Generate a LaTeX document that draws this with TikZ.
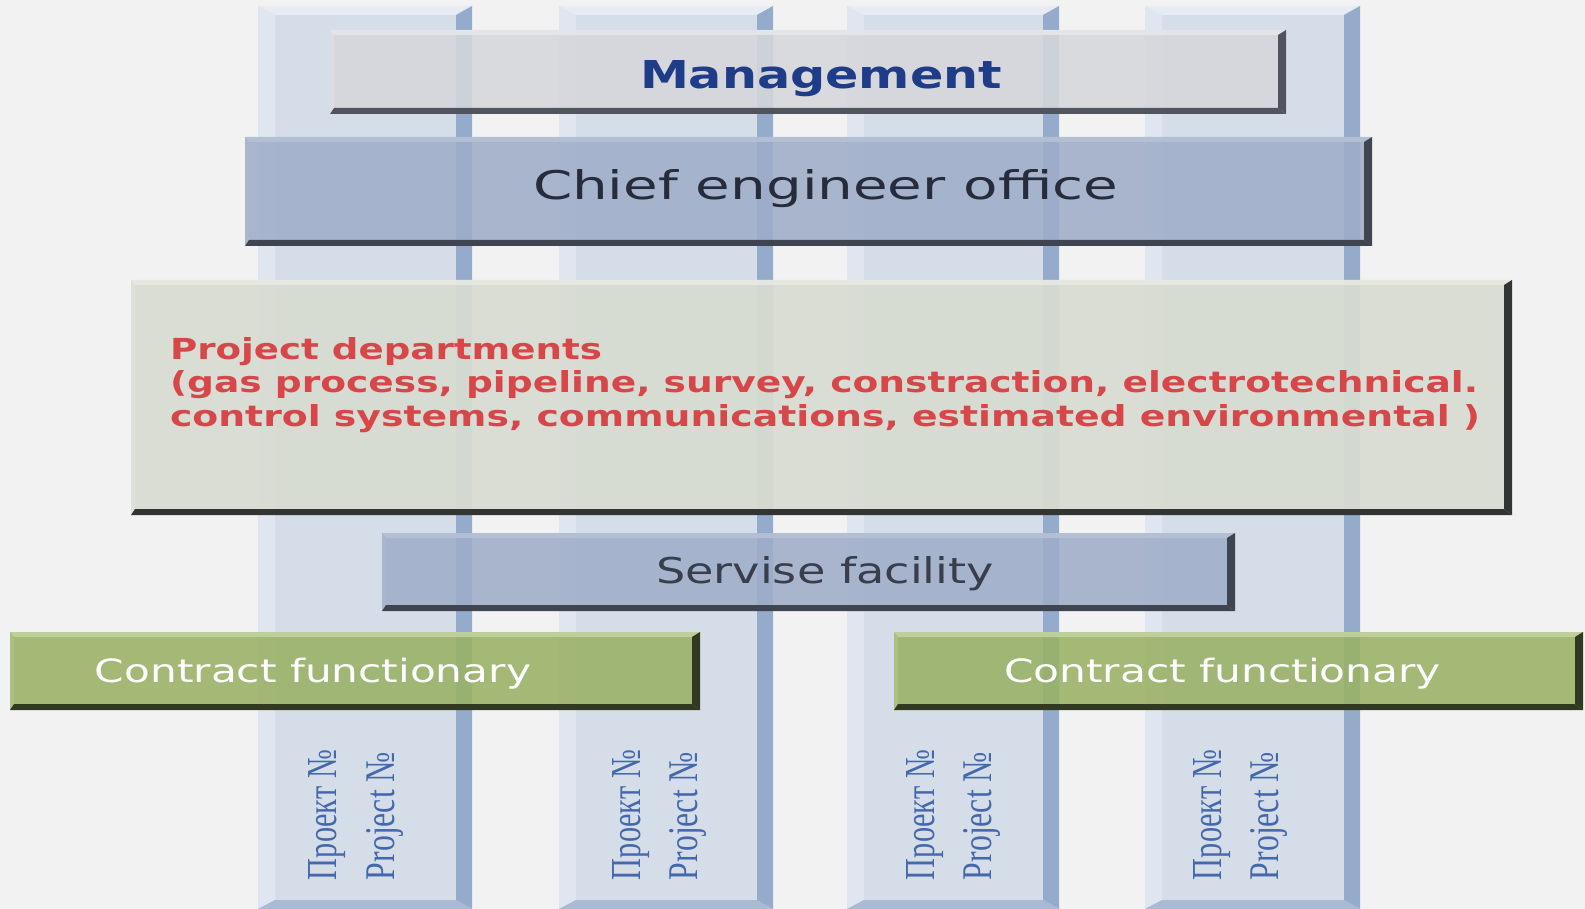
\documentclass[tikz,border=0pt]{standalone}
\usepackage{fontspec}
\setmainfont{DejaVu Sans}
\newfontfamily\cyrser{Liberation Serif}
\usepackage{graphicx}
\definecolor{bg}{HTML}{F2F2F2}
\definecolor{colmain}{HTML}{D5DDE9}
\definecolor{colleft}{HTML}{DFE6F0}
\definecolor{coldark}{HTML}{95ABCB}
\definecolor{coltop}{HTML}{E7ECF3}
\definecolor{colbot}{HTML}{A9BAD4}
\definecolor{mgfill}{HTML}{D6D7DB}
\definecolor{mglight}{HTML}{E6E7EA}
\definecolor{mgdark}{HTML}{4A4E58}
\definecolor{cefill}{HTML}{9FADC8}
\definecolor{celight}{HTML}{B6C1D6}
\definecolor{cedark}{HTML}{3A3F4B}
\definecolor{pdfill}{HTML}{D8DCD2}
\definecolor{pdlight}{HTML}{E6E9E1}
\definecolor{pddark}{HTML}{2B2D2C}
\definecolor{cffill}{HTML}{99B163}
\definecolor{cflight}{HTML}{C2D3A0}
\definecolor{cfdark}{HTML}{2C331F}
\definecolor{mgtext}{HTML}{1F3C88}
\definecolor{cetext}{HTML}{272C3C}
\definecolor{sftext}{HTML}{393E4C}
\definecolor{pdtext}{HTML}{D7474A}
\definecolor{projblue}{HTML}{4468AC}
\tikzset{
  box/.style n args={3}{anchor=north west, inner sep=0pt, outer sep=0pt, fill=#1, fill opacity=0.87,
    path picture={
      \fill[#2] (path picture bounding box.north west) -- (path picture bounding box.north east)
        -- ([xshift=-4pt,yshift=-2.5pt]path picture bounding box.north east)
        -- ([xshift=2pt,yshift=-2.5pt]path picture bounding box.north west) -- cycle;
      \fill[#2!50!#1] (path picture bounding box.north west) -- ([xshift=2pt,yshift=-2.5pt]path picture bounding box.north west)
        -- ([xshift=2pt,yshift=3pt]path picture bounding box.south west) -- (path picture bounding box.south west) -- cycle;
      \fill[#3, fill opacity=0.95] (path picture bounding box.north east) -- (path picture bounding box.south east)
        -- ([xshift=-4pt,yshift=3pt]path picture bounding box.south east)
        -- ([xshift=-4pt,yshift=-2.5pt]path picture bounding box.north east) -- cycle;
      \fill[#3, fill opacity=0.95] (path picture bounding box.south west) -- (path picture bounding box.south east)
        -- ([xshift=-4pt,yshift=3pt]path picture bounding box.south east)
        -- ([xshift=2pt,yshift=3pt]path picture bounding box.south west) -- cycle;
    }},
  lbl/.style={anchor=base west, inner sep=0pt, outer sep=0pt},
  vlbl/.style={anchor=base west, inner sep=0pt, outer sep=0pt, rotate=90, text=projblue}
}
\newcommand\projcolumn[2]{%
  \fill[colmain] (#1,6) rectangle (#2,909);
  \fill[colleft] (#1,6) -- (#1+17,15) -- (#1+17,900) -- (#1,909) -- cycle;
  \fill[coltop] (#1,6) -- (#2,6) -- (#2-16,15) -- (#1+17,15) -- cycle;
  \fill[coldark] (#2,6) -- (#2,909) -- (#2-16,900) -- (#2-16,15) -- cycle;
  \fill[colbot] (#1,909) -- (#2,909) -- (#2-16,900) -- (#1+17,900) -- cycle;
}
\begin{document}
\begin{tikzpicture}[x=0.5pt,y=-0.5pt]
\useasboundingbox (0,0) rectangle (1585,909);
\fill[bg] (0,0) rectangle (1585,909);
% project columns
\projcolumn{258}{472}
\projcolumn{559}{773}
\projcolumn{847}{1059}
\projcolumn{1145}{1360}
% boxes
\node[box={mgfill}{mglight}{mgdark}, minimum width=478pt, minimum height=42pt] (mgmt) at (330,30) {};
\node[box={cefill}{celight}{cedark}, minimum width=563.5pt, minimum height=54.5pt] (chief) at (245,137) {};
\node[box={pdfill}{pdlight}{pddark}, minimum width=690.5pt, minimum height=117.5pt, fill opacity=0.93] (dept) at (131,280) {};
\node[box={cefill}{celight}{cedark}, minimum width=426.5pt, minimum height=39pt] (serv) at (382,533) {};
\node[box={cffill}{cflight}{cfdark}, minimum width=345pt, minimum height=39pt] (contrL) at (10,632) {};
\node[box={cffill}{cflight}{cfdark}, minimum width=344.5pt, minimum height=39pt] (contrR) at (894,632) {};
% texts
\node[lbl, text=mgtext] (mgmtT) at (640,89) {\resizebox{181pt}{14pt}{\bfseries Management}};
\node[lbl, text=cetext] (chiefT) at (533,200) {\resizebox{292.5pt}{15pt}{Chief engineer office}};
\node[lbl, text=pdtext] (deptT1) at (170,359) {\resizebox{216pt}{11pt}{\bfseries Project departments}};
\node[lbl, text=pdtext] (deptT2) at (170,392) {\resizebox{654pt}{11pt}{\bfseries (gas process, pipeline, survey, constraction, electrotechnical.}};
\node[lbl, text=pdtext] (deptT3) at (170,426) {\resizebox{655pt}{11pt}{\bfseries control systems, communications, estimated environmental )}};
\node[lbl, text=sftext] (servT) at (656,583) {\resizebox{169pt}{13.5pt}{Servise facility}};
\node[lbl, text=white] (contrLT) at (95,682) {\resizebox{218pt}{12.2pt}{Contract functionary}};
\node[lbl, text=white] (contrRT) at (1004,682) {\resizebox{218.5pt}{12.2pt}{Contract functionary}};
% vertical project labels
\node[vlbl] (c1a) at (336,880) {\resizebox{65pt}{14pt}{\cyrser Проект №}};
\node[vlbl] (c1b) at (394,880) {\resizebox{64pt}{14pt}{\cyrser Project №}};
\node[vlbl] (c2a) at (640,880) {\resizebox{65pt}{14pt}{\cyrser Проект №}};
\node[vlbl] (c2b) at (697,880) {\resizebox{64pt}{14pt}{\cyrser Project №}};
\node[vlbl] (c3a) at (934,880) {\resizebox{65pt}{14pt}{\cyrser Проект №}};
\node[vlbl] (c3b) at (991,880) {\resizebox{64pt}{14pt}{\cyrser Project №}};
\node[vlbl] (c4a) at (1221,880) {\resizebox{65pt}{14pt}{\cyrser Проект №}};
\node[vlbl] (c4b) at (1278,880) {\resizebox{64pt}{14pt}{\cyrser Project №}};
\end{tikzpicture}
\end{document}
